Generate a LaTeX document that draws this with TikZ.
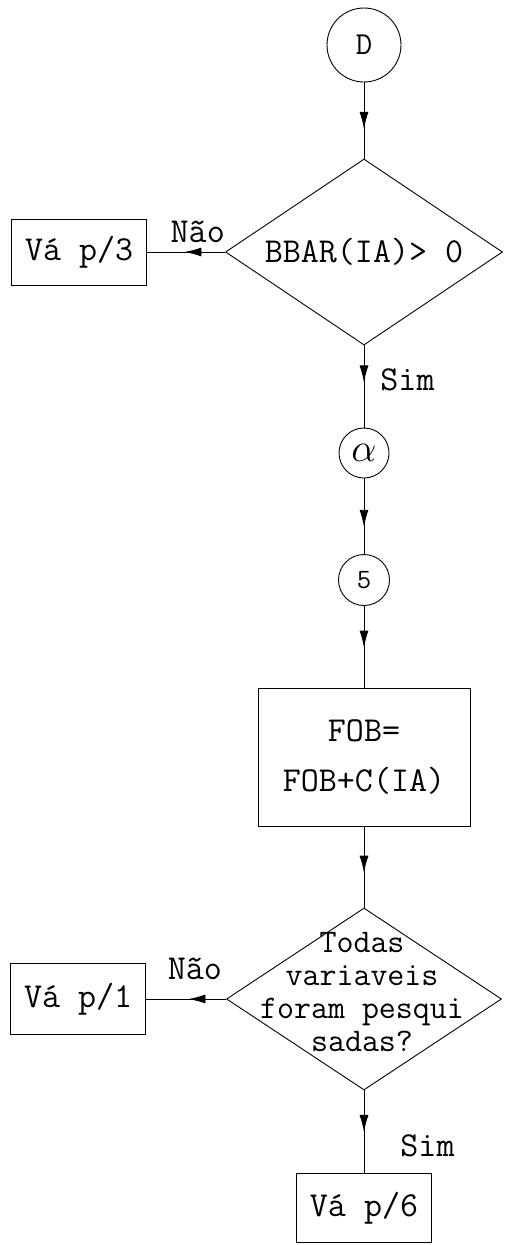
\documentclass[tikz,border=0pt]{standalone}
\usepackage{fontspec}
\usepackage{graphicx}
\usetikzlibrary{arrows.meta, positioning, shapes.geometric, decorations.markings}

\begin{document}
\begin{tikzpicture}[x=1pt, y=-1pt, >=Latex, line width=0.9pt,
    font=\fontsize{35}{31}\selectfont\ttfamily,
    conn/.style={draw, circle, inner sep=0pt, font=\fontsize{32}{32}\selectfont\ttfamily},
    proc/.style={draw, rectangle, inner sep=0pt, minimum width=135pt, minimum height=66pt},
    decision/.style={draw, diamond, inner sep=0pt, aspect=1.5, minimum width=277pt, minimum height=186pt},
    flow/.style={postaction={decorate}, decoration={markings, mark=at position #1 with {\arrow{Latex[length=17pt,width=9pt]}}}},
    flow/.default=0.55,
    lbl/.style={inner sep=0pt}]
      \useasboundingbox (0,0) rectangle (508,1245);

      % coluna principal
      \node[conn, minimum size=74pt] (inicio) at (364,45) {D};
      \node[decision] (teste1) at (364,252) {BBAR(IA)> 0};
      \node[proc, left=78pt of teste1] (vai3) {Vá p/3};
      \node[conn, minimum size=50pt] (alfa) at (364,453) {\scalebox{1.6}{$\alpha$}};
      \node[conn, minimum size=51pt, font=\fontsize{28}{28}\selectfont\ttfamily] (cinco) at (364,580) {5};
      \node[proc, minimum width=212pt, minimum height=138pt, align=center] (soma) at (364,757) {FOB=\\[19pt]FOB+C(IA)};
      \node[decision, minimum width=275pt, minimum height=182pt] (teste2) at (364,999) {};
      \node[align=center, inner sep=0pt, font=\fontsize{33}{33}\selectfont\ttfamily] (teste2txt) at (362,992) {Todas\\variaveis\\foram pesqui\\sadas?};
      \node[proc, minimum height=71pt, left=80pt of teste2] (vai1) {Vá p/1};
      \node[proc, minimum height=69pt, below=83pt of teste2] (vai6) {Vá p/6};

      % ligacoes
      \draw[flow=0.61] (inicio) -- (teste1);
      \draw[flow=0.52] (teste1) -- node[lbl, above=9pt, pos=0.35] {Não} (vai3);
      \draw[flow=0.45] (teste1) -- node[lbl, right=16pt, pos=0.42] {Sim} (alfa);
      \draw[flow=0.64] (alfa) -- (cinco);
      \draw[flow=0.51] (cinco) -- (soma);
      \draw[flow=0.57] (soma) -- (teste2);
      \draw[flow=0.47] (teste2) -- node[lbl, above=19pt, pos=0.39] {Não} (vai1);
      \draw[flow=0.5] (teste2) -- node[lbl, right=36pt, pos=0.67] {Sim} (vai6);
    \end{tikzpicture}
\end{document}
